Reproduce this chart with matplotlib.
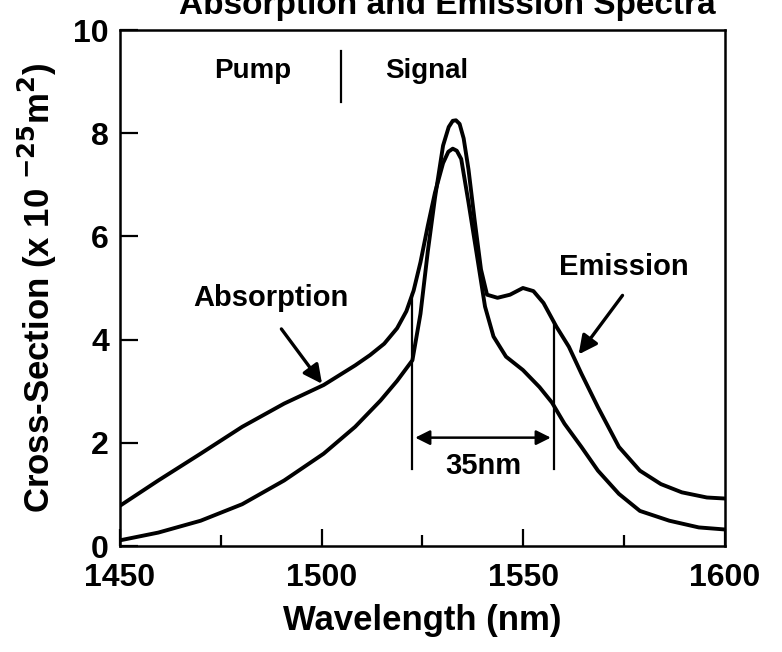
import numpy as np
import matplotlib.pyplot as plt

plt.rcParams['font.family'] = ['Liberation Sans', 'DejaVu Sans']
plt.rcParams['font.weight'] = 'bold'
plt.rcParams['axes.labelweight'] = 'bold'
plt.rcParams['mathtext.default'] = 'bf'

# values (wavelength in nm, cross-section in 1e-25 m^2)
abs_wl = [1450, 1459.5, 1470, 1480.3, 1490.7, 1500.5, 1508.3, 1512, 1515.5, 1518.7,
          1521, 1522.8, 1524.5, 1526.3, 1528.1, 1530.1, 1531.4, 1532.5, 1533.5, 1534.6,
          1536.4, 1538.4, 1540.5, 1542.6, 1545.7, 1549.9, 1554, 1557.1, 1560.2, 1564.4,
          1568.5, 1573.7, 1578.9, 1586.2, 1593.5, 1600]
abs_cs = [0.78, 1.27, 1.79, 2.31, 2.76, 3.12, 3.5, 3.7, 3.92, 4.22,
          4.55, 4.95, 5.5, 6.2, 6.85, 7.42, 7.64, 7.7, 7.66, 7.5,
          6.66, 5.68, 4.64, 4.06, 3.67, 3.41, 3.08, 2.78, 2.37, 1.92,
          1.46, 1.01, 0.68, 0.49, 0.36, 0.32]

em_wl = [1450, 1459.5, 1470, 1480.3, 1490.7, 1500.5, 1508.3, 1514.6, 1518.7, 1522.5,
         1524.5, 1526.3, 1528.1, 1530.1, 1531.5, 1532.5, 1533.3, 1534.2, 1535.2, 1536.4,
         1537.9, 1539.5, 1541, 1543.6, 1546.7, 1549.9, 1552.5, 1555, 1558.2, 1561.3,
         1564.4, 1568.5, 1573.7, 1578.9, 1584.1, 1589.3, 1595.5, 1600]
em_cs = [0.11, 0.26, 0.49, 0.81, 1.27, 1.79, 2.31, 2.82, 3.2, 3.6,
         4.5, 5.7, 6.75, 7.76, 8.12, 8.24, 8.25, 8.18, 7.9, 7.3,
         6.33, 5.36, 4.87, 4.81, 4.87, 5.0, 4.94, 4.71, 4.25, 3.86,
         3.34, 2.69, 1.92, 1.46, 1.2, 1.04, 0.94, 0.92]

bw_left, bw_right = 1522.5, 1557.5
bw_label = '35nm'

fig = plt.figure(figsize=(7.82, 6.52), dpi=100)
ax = fig.add_axes([120/782, 1 - 546/652, 605/782, 516/652])

ax.plot(abs_wl, abs_cs, color='black', lw=2.8, solid_joinstyle='round')
ax.plot(em_wl, em_cs, color='black', lw=2.8, solid_joinstyle='round')

# bandwidth markers
ax.plot([bw_left, bw_left], [1.5, np.interp(bw_left, abs_wl, abs_cs)], color='black', lw=1.6)
ax.plot([bw_right, bw_right], [1.5, np.interp(bw_right, em_wl, em_cs)], color='black', lw=1.6)
ax.annotate('', xy=(bw_left, 2.1), xytext=(bw_right, 2.1),
            arrowprops=dict(arrowstyle='<|-|>', color='black', lw=1.8, mutation_scale=22))
ax.text((bw_left + bw_right) / 2, 1.55, bw_label, ha='center', va='center', fontsize=21)

# curve labels
ax.annotate('', xy=(1500.5, 3.1), xytext=(1489.6, 4.25),
            arrowprops=dict(arrowstyle='-|>', color='black', lw=2.4, mutation_scale=28))
ax.text(1487.5, 4.8, 'Absorption', ha='center', va='center', fontsize=21)
ax.annotate('', xy=(1563.3, 3.67), xytext=(1575, 4.9),
            arrowprops=dict(arrowstyle='-|>', color='black', lw=2.4, mutation_scale=28))
ax.text(1575, 5.4, 'Emission', ha='center', va='center', fontsize=21)

ax.text(1483, 9.2, 'Pump', ha='center', va='center', fontsize=20)
ax.text(1526, 9.2, 'Signal', ha='center', va='center', fontsize=20)
ax.plot([1504.8, 1504.8], [8.6, 9.6], color='black', lw=1.6)

ax.set_xlim(1450, 1600)
ax.set_ylim(0, 10)
ax.set_xticks([1450, 1500, 1550, 1600])
ax.set_xticks([1475, 1525, 1575], minor=True)
ax.set_yticks([0, 2, 4, 6, 8, 10])
ax.tick_params(axis='both', which='both', direction='in', top=False, right=False,
               labelsize=23, width=1.6)
ax.tick_params(axis='x', which='major', length=12, pad=12)
ax.tick_params(axis='x', which='minor', length=8)
ax.tick_params(axis='y', which='major', length=13, pad=8)
for s in ax.spines.values():
    s.set_linewidth(1.8)

ax.set_xlabel('Wavelength (nm)', fontsize=25, labelpad=8)
ax.set_ylabel('Cross-Section (x 10 $^{-25}$m$^2$)', fontsize=25, labelpad=10)

# the title sits mostly above the top edge, as in the scanned original
fig.text(447/782, 1 - 14/652, 'Absorption and Emission Spectra', ha='center',
         va='baseline', fontsize=24, fontweight='bold')

plt.savefig('out.png', dpi=100)
